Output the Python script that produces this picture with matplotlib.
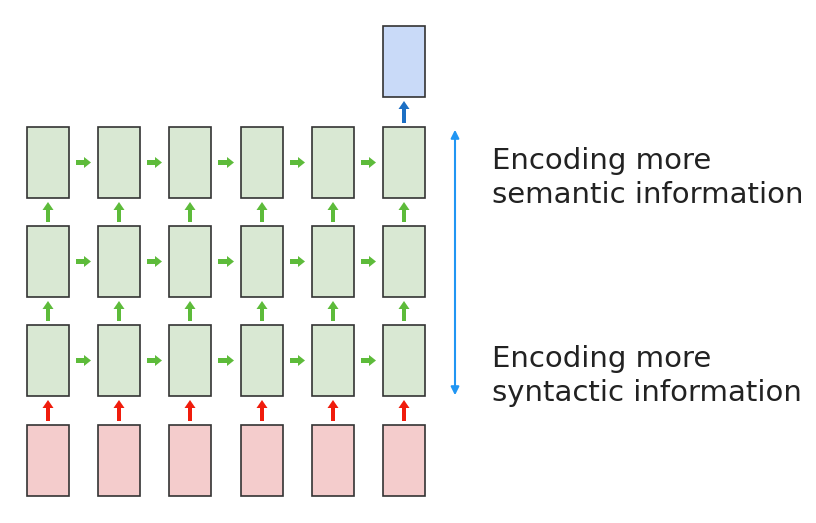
import matplotlib.pyplot as plt
from matplotlib.patches import Rectangle, FancyArrow

# layout of the diagram (pixel units)
col_left = [27, 98, 169, 241, 312, 383]
box_w = 42
box_h = 71
row_top = {"hidden3": 127, "hidden2": 226, "hidden1": 325, "input": 425, "output": 26}
labels = ["Encoding more\nsemantic information", "Encoding more\nsyntactic information"]

green, green_arrow = "#d9e8d3", "#5dbb3a"
red, red_arrow = "#f4cccc", "#f01c0c"
blue, blue_arrow = "#c9daf8", "#1c6fc4"

fig = plt.figure(figsize=(8.16, 5.23), dpi=100)
ax = fig.add_axes([0, 0, 1, 1])
ax.set_xlim(0, 816)
ax.set_ylim(523, 0)
ax.axis("off")


def box(x, y, color):
    ax.add_patch(Rectangle((x, y), box_w, box_h, facecolor=color, edgecolor="#333333", lw=1.2))


def up_arrow(x, y0, y1, color):
    ax.add_patch(FancyArrow(x, y0, 0, y1 - y0, width=4, head_width=11, head_length=8,
                            length_includes_head=True, color=color, lw=0))


for x in col_left:
    for r in ["hidden3", "hidden2", "hidden1"]:
        box(x, row_top[r], green)
    box(x, row_top["input"], red)
    cx = x + box_w / 2
    up_arrow(cx, row_top["input"] - 4, row_top["hidden1"] + box_h + 4, red_arrow)
    up_arrow(cx, row_top["hidden1"] - 4, row_top["hidden2"] + box_h + 4, green_arrow)
    up_arrow(cx, row_top["hidden2"] - 4, row_top["hidden3"] + box_h + 4, green_arrow)

for r in ["hidden3", "hidden2", "hidden1"]:
    cy = row_top[r] + box_h / 2
    for a, b in zip(col_left[:-1], col_left[1:]):
        ax.add_patch(FancyArrow(a + box_w + 7, cy, b - a - box_w - 14, 0, width=5, head_width=11,
                                head_length=7, length_includes_head=True, color=green_arrow, lw=0))

last = col_left[-1]
box(last, row_top["output"], blue)
up_arrow(last + box_w / 2, row_top["hidden3"] - 4, row_top["output"] + box_h + 4, blue_arrow)

ax.annotate("", xy=(455, 127), xytext=(455, 398),
            arrowprops=dict(arrowstyle="<|-|>", color="#2196f3", lw=1.5, mutation_scale=12))

ax.text(492, 178, labels[0], fontsize=21, va="center", ha="left", color="#222222", linespacing=1.25)
ax.text(492, 376, labels[1], fontsize=21, va="center", ha="left", color="#222222", linespacing=1.25)

fig.savefig("out.png", dpi=100)
